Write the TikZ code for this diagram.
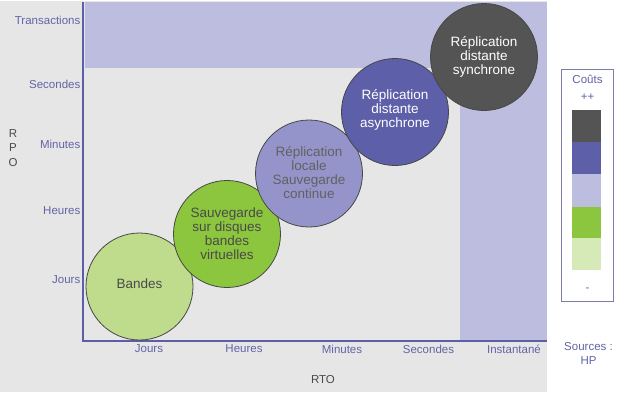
\documentclass[tikz,border=0pt]{standalone}
\usepackage{fontspec}
\setmainfont{Liberation Sans}
\definecolor{bggray}{HTML}{E6E6E6}
\definecolor{lav}{HTML}{BDBDDF}
\definecolor{axisblue}{HTML}{5C5EA8}
\definecolor{labblue}{HTML}{6264A7}
\definecolor{cbandes}{HTML}{BFDC8C}
\definecolor{csauv}{HTML}{8CC63E}
\definecolor{clocale}{HTML}{9494CA}
\definecolor{casync}{HTML}{5D5FA8}
\definecolor{csync}{HTML}{545454}
\definecolor{lightbar}{HTML}{D6EAB8}
\definecolor{legborder}{HTML}{7C7CA8}
\definecolor{txtgray}{HTML}{4A4A4A}
\begin{document}
\begin{tikzpicture}[x=1pt,y=-1pt,
  bubble/.style={circle, draw=black!72, line width=0.8pt, minimum size=107pt, inner sep=0pt},
  bubbletext/.style={inner sep=0pt, align=center, font=\fontsize{13.5}{14}\selectfont},
  axlabel/.style={text=labblue, font=\fontsize{11.5}{13}\selectfont, inner sep=0pt},
  titlelabel/.style={text=txtgray, font=\fontsize{11.5}{14.5}\selectfont, inner sep=0pt, align=center},
  legtext/.style={text=labblue, font=\fontsize{11.5}{14}\selectfont, inner sep=0pt, align=center}]
\useasboundingbox (0,0) rectangle (630,392);
\fill[white] (0,0) rectangle (630,392);
\fill[bggray] (0,1) rectangle (546.5,392);
% lavender zones
\fill[lav] (85,2) rectangle (546.5,68);
\fill[lav] (460,2) rectangle (546.5,340);
% axes
\draw[axisblue, line width=2.5pt] (83,2) -- (83,341) -- (546.5,341);
% y labels
\node[axlabel, anchor=east] (yt) at (80.5,20.5) {Transactions};
\node[axlabel, anchor=east] (ys) at (80.5,84.5) {Secondes};
\node[axlabel, anchor=east] (ym) at (80.5,144) {Minutes};
\node[axlabel, anchor=east] (yh) at (80.5,210.5) {Heures};
\node[axlabel, anchor=east] (yj) at (80.5,280) {Jours};
% x labels
\node[axlabel] (xj) at (149,349) {Jours};
\node[axlabel] (xh) at (244,349) {Heures};
\node[axlabel] (xm) at (342,349) {Minutes};
\node[axlabel] (xs) at (428.5,349) {Secondes};
\node[axlabel] (xi) at (514,349) {Instantané};
% axis titles
\node[titlelabel] (rpo) at (13,148) {R\\P\\O};
\node[titlelabel] (rto) at (323,380) {RTO};
% bubbles
\node[bubble, fill=cbandes] (bandes) at (139.5,286.5) {};
\node[bubbletext, text=txtgray] (bandesT) at (139.5,284) {Bandes};
\node[bubble, fill=csauv] (sauv) at (227,234) {};
\node[bubbletext, text=txtgray] (sauvT) at (227,234) {Sauvegarde\\sur disques\\bandes\\virtuelles};
\node[bubble, fill=clocale] (locale) at (309,173.5) {};
\node[bubbletext, text=black!62] (localeT) at (309,172.5) {Réplication\\locale\\Sauvegarde\\continue};
\node[bubble, fill=casync] (async) at (395,112) {};
\node[bubbletext, text=white] (asyncT) at (395,109.5) {Réplication\\distante\\asynchrone};
\node[bubble, fill=csync] (sync) at (484,57) {};
\node[bubbletext, text=white] (syncT) at (484,56.5) {Réplication\\distante\\synchrone};
% legend
\draw[legborder, line width=0.8pt] (561.5,69) rectangle (613.5,301);
\node[legtext] (couts) at (587.5,79) {Coûts};
\node[legtext] (plus) at (587.5,97) {++};
\fill[csync] (572,110) rectangle (601,142);
\fill[casync] (572,142) rectangle (601,174);
\fill[lav] (572,174) rectangle (601,207);
\fill[csauv] (572,207) rectangle (601,237.5);
\fill[lightbar] (572,237.5) rectangle (601,270);
\node[legtext] (minus) at (587.5,290) {-};
\node[legtext] (src) at (588.5,353) {Sources :\\HP};
\end{tikzpicture}
\end{document}
